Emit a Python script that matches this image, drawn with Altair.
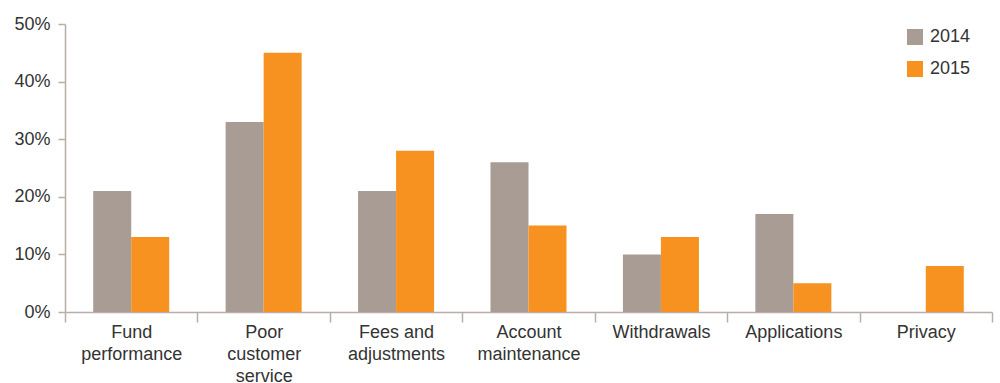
import altair as alt
import pandas as pd

categories = ["Fund\nperformance", "Poor\ncustomer\nservice", "Fees and\nadjustments",
              "Account\nmaintenance", "Withdrawals", "Applications", "Privacy"]
values_2014 = [0.21, 0.33, 0.21, 0.26, 0.10, 0.17, None]
values_2015 = [0.13, 0.45, 0.28, 0.15, 0.13, 0.05, 0.08]
years = ["2014", "2015"]
colors = ["#a89c94", "#f79220"]

rows = []
for c, a, b in zip(categories, values_2014, values_2015):
    rows.append({"category": c, "year": years[0], "value": a})
    rows.append({"category": c, "year": years[1], "value": b})
df = pd.DataFrame(rows)

FONT = "Liberation Sans"
AXIS_COLOR = "#b8aea7"
TEXT_COLOR = "#333333"

chart = alt.Chart(df).mark_bar().encode(
    x=alt.X("category:N", sort=categories, title=None,
            scale=alt.Scale(paddingInner=0, paddingOuter=0),
            axis=alt.Axis(labelAngle=0, tickBand="extent", tickSize=10,
                          labelExpr="isValid(datum.value) ? split(datum.value, '\\n') : ''",
                          labelLineHeight=22, labelPadding=1,
                          labelFontSize=18, labelFont=FONT, labelColor=TEXT_COLOR,
                          domainColor=AXIS_COLOR, tickColor=AXIS_COLOR,
                          domainWidth=1.5, tickWidth=1.5, grid=False)),
    xOffset=alt.XOffset("year:N", sort=years,
                        scale=alt.Scale(paddingInner=0, paddingOuter=0.742)),
    y=alt.Y("value:Q", title=None,
            scale=alt.Scale(domain=[0, 0.5], nice=False),
            axis=alt.Axis(format=".0%", values=[0, 0.1, 0.2, 0.3, 0.4, 0.5],
                          tickSize=7, labelPadding=8, labelFontSize=18,
                          labelFont=FONT, labelColor=TEXT_COLOR,
                          domainColor=AXIS_COLOR, tickColor=AXIS_COLOR,
                          domainWidth=1.5, tickWidth=1.5, grid=False)),
    color=alt.Color("year:N", sort=years,
                    scale=alt.Scale(domain=years, range=colors),
                    legend=alt.Legend(title=None, orient="none", legendX=841, legendY=4,
                                      symbolType="square", symbolSize=256,
                                      symbolStrokeWidth=0, symbolOpacity=1,
                                      labelFontSize=18, labelFont=FONT,
                                      labelColor=TEXT_COLOR, labelOffset=6,
                                      rowPadding=14)),
).properties(
    width=927, height=288,
    autosize=alt.AutoSizeParams(type="none"),
    padding={"left": 65, "top": 24, "right": 8, "bottom": 71},
).configure(background="white").configure_view(stroke=None)

chart.save("out.html", embed_options={"renderer": "svg", "actions": False})
